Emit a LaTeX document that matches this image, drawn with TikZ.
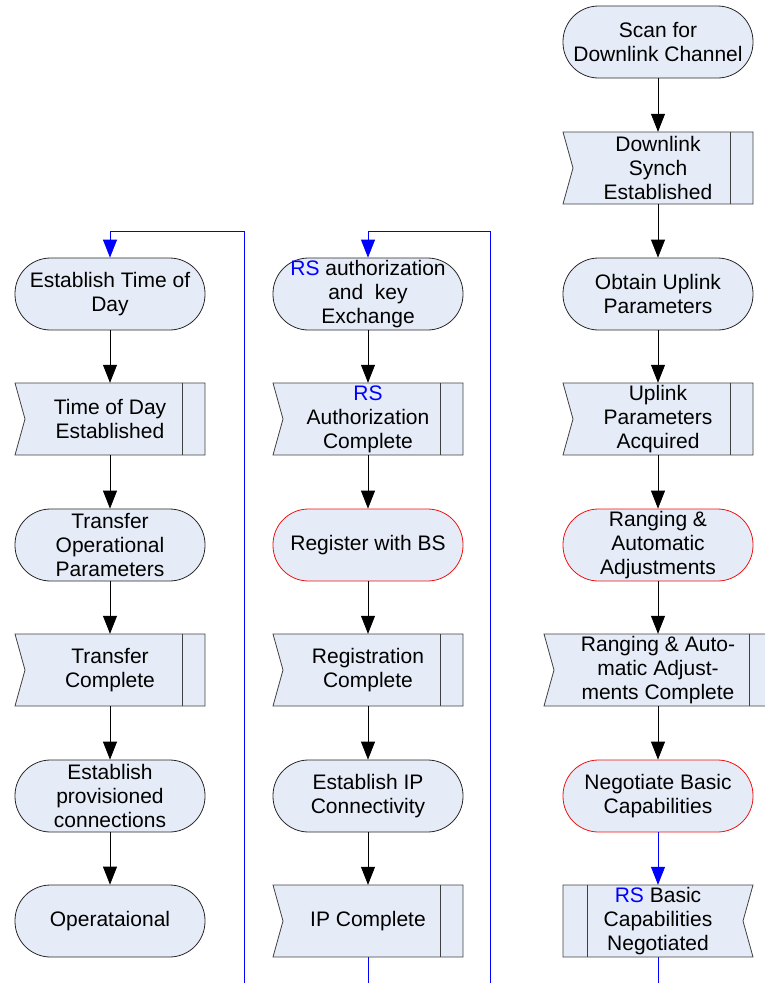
\documentclass[tikz,border=0pt]{standalone}
\usepackage{fontspec}
\setmainfont{Liberation Sans}
\usetikzlibrary{arrows.meta}
\definecolor{fillc}{HTML}{E6ECF7}
\definecolor{rsblue}{HTML}{0000FF}
\definecolor{redline}{HTML}{F01010}
\tikzset{
  txt/.style={align=center, font=\fontsize{21}{24}\selectfont},
  term/.style={txt, draw=black!85, fill=fillc, line width=0.8pt, rounded corners=35.5pt,
    minimum width=190pt, minimum height=72pt, inner sep=0pt},
  termred/.style={term, draw=redline},
  boxshape/.style={draw=black!75, fill=fillc, line width=0.8pt},
  arr/.style={-{Triangle[width=14pt,length=18pt]}, line width=0.8pt, draw=black},
  barr/.style={-{Triangle[width=14pt,length=18pt,fill=rsblue]}, line width=0.8pt, draw=rsblue},
  bline/.style={line width=0.8pt, draw=rsblue}
}
% flag box: name, x, y, half width, text
\newcommand\FlagBox[5]{%
  \draw[boxshape] ({#2-#4},{#3-36}) -- ({#2+#4},{#3-36}) -- ({#2+#4},{#3+36})
     -- ({#2-#4},{#3+36}) -- ({#2-#4+10},#3) -- cycle;
  \draw[boxshape] ({#2+#4-23},{#3-36}) -- ({#2+#4-23},{#3+36});
  \node[txt, minimum width={2*#4}, minimum height=72pt, inner sep=0pt] (#1) at (#2,#3) {#5};
}
% mirrored flag box
\newcommand\FlagBoxR[5]{%
  \draw[boxshape] ({#2-#4},{#3-36}) -- ({#2+#4},{#3-36}) -- ({#2+#4-10},#3)
     -- ({#2+#4},{#3+36}) -- ({#2-#4},{#3+36}) -- cycle;
  \draw[boxshape] ({#2-#4+24},{#3-36}) -- ({#2-#4+24},{#3+36});
  \node[txt, minimum width={2*#4}, minimum height=72pt, inner sep=0pt] (#1) at (#2,#3) {#5};
}
\newcommand\RS{{\color{rsblue}RS}}
\begin{document}
\begin{tikzpicture}[x=1pt,y=-1pt]
\useasboundingbox (0,0) rectangle (764,983);
% column 3
\node[term] (scan) at (658,42) {Scan for\\Downlink Channel};
\FlagBox{dls}{658}{168}{95}{Downlink\\Synch\\Established}
\node[term] (oup) at (658,294) {Obtain Uplink\\Parameters};
\FlagBox{upa}{658}{419}{95}{Uplink\\Parameters\\Acquired}
\node[termred] (rng) at (658,545) {Ranging \&\\Automatic\\Adjustments};
\FlagBox{rngc}{658}{670}{114}{Ranging \& Auto-\\matic Adjust-\\ments Complete}
\node[termred] (neg) at (658,796) {Negotiate Basic\\Capabilities};
\FlagBoxR{rsb}{658}{921}{95}{\RS\ Basic\\Capabilities\\Negotiated}
% column 2
\node[term] (auth) at (368,294) {\RS\ authorization\\and\ \ key\\Exchange};
\FlagBox{authc}{368}{419}{95}{\RS\\Authorization\\Complete}
\node[termred] (reg) at (368,545) {Register with BS};
\FlagBox{regc}{368}{670}{95}{Registration\\Complete}
\node[term] (eip) at (368,796) {Establish IP\\Connectivity};
\FlagBox{ipc}{368}{921}{95}{IP Complete}
% column 1
\node[term] (tod) at (110,294) {Establish Time of\\Day};
\FlagBox{todc}{110}{419}{95}{Time of Day\\Established}
\node[term] (top) at (110,545) {Transfer\\Operational\\Parameters};
\FlagBox{trc}{110}{670}{95}{Transfer\\Complete}
\node[term] (epc) at (110,796) {Establish\\provisioned\\connections};
\node[term] (op) at (110,921) {Operataional};
% arrows column 3
\draw[arr] (scan) -- (dls);
\draw[arr] (dls) -- (oup);
\draw[arr] (oup) -- (upa);
\draw[arr] (upa) -- (rng);
\draw[arr] (rng) -- (rngc);
\draw[arr] (rngc) -- (neg);
\draw[barr] (neg) -- (rsb);
% arrows column 2
\draw[arr] (auth) -- (authc);
\draw[arr] (authc) -- (reg);
\draw[arr] (reg) -- (regc);
\draw[arr] (regc) -- (eip);
\draw[arr] (eip) -- (ipc);
% arrows column 1
\draw[arr] (tod) -- (todc);
\draw[arr] (todc) -- (top);
\draw[arr] (top) -- (trc);
\draw[arr] (trc) -- (epc);
\draw[arr] (epc) -- (op);
% off-page blue connectors
\coordinate (f3) at (658,983);
\coordinate (f2) at (368,983);
\coordinate (e2) at (490,983);
\coordinate (k2) at (490,231);
\coordinate (e1) at (244,983);
\coordinate (k1) at (244,231);
\draw[bline] (rsb) -- (f3);
\draw[bline] (ipc) -- (f2);
\draw[barr] (e2) -- (k2) -| (auth);
\draw[barr] (e1) -- (k1) -| (tod);
\end{tikzpicture}
\end{document}
